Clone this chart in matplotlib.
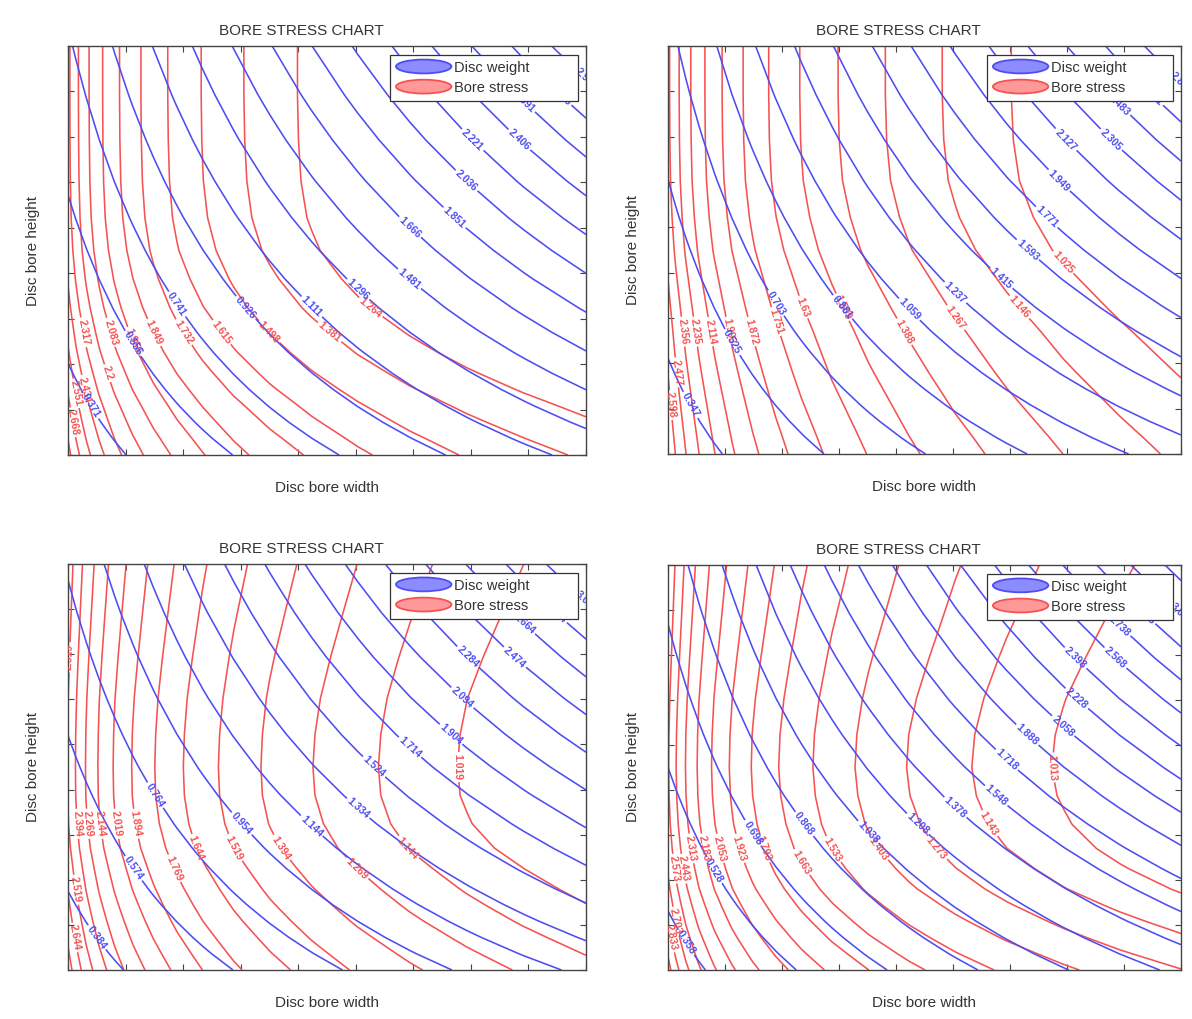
import numpy as np
import matplotlib
matplotlib.use("Agg")
import matplotlib.pyplot as plt
from matplotlib.patches import Ellipse
from matplotlib.legend_handler import HandlerPatch

plt.rcParams['font.family'] = ['Liberation Sans', 'DejaVu Sans']

# ---------------- data ----------------
# grid of disc bore width / height (normalised)
width_grid = [0, 0.015, 0.035, 0.06, 0.09, 0.125, 0.165, 0.21, 0.26, 0.32, 0.39,
              0.47, 0.56, 0.66, 0.77, 0.88, 1.0]
height_grid = [0, 0.04, 0.08, 0.12, 0.16, 0.2, 0.25, 0.3, 0.36, 0.43, 0.5,
               0.58, 0.67, 0.77, 0.88, 1.0]

# panel 1 (top left)
weight_w1 = [0.45, 0.4725, 0.5025, 0.54, 0.585, 0.6375, 0.6975, 0.765, 0.84, 0.93,
             1.035, 1.155, 1.29, 1.44, 1.605, 1.77, 1.95]
weight_h1 = [0.6, 0.64, 0.68, 0.72, 0.76, 0.8, 0.85, 0.9, 0.96, 1.03, 1.1, 1.18,
             1.27, 1.37, 1.48, 1.6]
weight_levels1 = [0.371, 0.556, 0.741, 0.926, 1.111, 1.296, 1.481, 1.666, 1.851,
                  2.036, 2.221, 2.406, 2.591, 2.776, 2.961]
stress_w1 = [2.344, 2.231, 2.110, 1.992, 1.878, 1.771, 1.672, 1.579, 1.493, 1.405,
             1.319, 1.236, 1.156, 1.080, 1.008, 0.945, 0.883]
stress_h1 = [0.480, 0.438, 0.395, 0.353, 0.310, 0.269, 0.220, 0.176, 0.126, 0.080,
             0.043, 0.019, 0.007, 0.002, 0.0, 0.0]
stress_levels1 = [1.264, 1.381, 1.498, 1.615, 1.732, 1.849, 1.966, 2.083, 2.200,
                  2.317, 2.434, 2.551, 2.668, 2.785]

# panel 2 (top right)
weight_w2 = [0.406, 0.4278, 0.4568, 0.493, 0.5365, 0.5873, 0.6453, 0.7105, 0.783,
             0.87, 0.9715, 1.0875, 1.218, 1.363, 1.5225, 1.682, 1.856]
weight_h2 = [0.62, 0.66, 0.70, 0.74, 0.78, 0.82, 0.87, 0.92, 0.98, 1.05, 1.12, 1.20,
             1.29, 1.39, 1.50, 1.62]
weight_levels2 = [0.347, 0.525, 0.703, 0.881, 1.059, 1.237, 1.415, 1.593, 1.771,
                  1.949, 2.127, 2.305, 2.483, 2.661, 2.839]
stress_w2 = [2.378, 2.274, 2.159, 2.040, 1.922, 1.809, 1.701, 1.599, 1.503, 1.404,
             1.307, 1.212, 1.120, 1.032, 0.948, 0.875, 0.803]
stress_h2 = [0.319, 0.299, 0.278, 0.257, 0.236, 0.215, 0.190, 0.165, 0.133, 0.097,
             0.061, 0.033, 0.012, 0.003, 0.0, 0.0]
stress_levels2 = [1.025, 1.146, 1.267, 1.388, 1.509, 1.630, 1.751, 1.872, 1.993,
                  2.114, 2.235, 2.356, 2.477, 2.598]

# panel 3 (bottom left)
weight_w3 = [0.496, 0.5193, 0.5503, 0.589, 0.6355, 0.6898, 0.7518, 0.8215, 0.899,
             0.992, 1.1005, 1.2245, 1.364, 1.519, 1.6895, 1.86, 2.046]
weight_h3 = [0.58, 0.62, 0.66, 0.70, 0.74, 0.78, 0.83, 0.88, 0.94, 1.01, 1.08, 1.16,
             1.25, 1.35, 1.46, 1.58]
weight_levels3 = [0.384, 0.574, 0.764, 0.954, 1.144, 1.334, 1.524, 1.714, 1.904,
                  2.094, 2.284, 2.474, 2.664, 2.854, 3.044]
stress_w3 = [2.506, 2.389, 2.261, 2.132, 2.007, 1.887, 1.775, 1.669, 1.570, 1.469,
             1.369, 1.272, 1.179, 1.090, 1.005, 0.931, 0.859]
stress_h3 = [0.323, 0.281, 0.240, 0.200, 0.163, 0.128, 0.088, 0.050, 0.021, 0.004,
             0.0, 0.004, 0.015, 0.035, 0.060, 0.088]
stress_levels3 = [1.019, 1.144, 1.269, 1.394, 1.519, 1.644, 1.769, 1.894, 2.019,
                  2.144, 2.269, 2.394, 2.519, 2.644, 2.769]

# panel 4 (bottom right)
weight_w4 = [0.48, 0.504, 0.536, 0.576, 0.624, 0.68, 0.744, 0.816, 0.896, 0.992,
             1.104, 1.232, 1.376, 1.536, 1.712, 1.888, 2.08]
weight_h4 = [0.6, 0.64, 0.68, 0.72, 0.76, 0.8, 0.85, 0.9, 0.96, 1.03, 1.1, 1.18,
             1.27, 1.37, 1.48, 1.6]
weight_levels4 = [0.358, 0.528, 0.698, 0.868, 1.038, 1.208, 1.378, 1.548, 1.718,
                  1.888, 2.058, 2.228, 2.398, 2.568, 2.738, 2.908, 3.078, 3.248]
stress_w4 = [2.584, 2.449, 2.306, 2.165, 2.030, 1.903, 1.785, 1.675, 1.572, 1.468,
             1.366, 1.267, 1.172, 1.082, 0.996, 0.920, 0.848]
stress_h4 = [0.429, 0.368, 0.309, 0.254, 0.202, 0.153, 0.104, 0.062, 0.029, 0.008,
             0.0, 0.005, 0.021, 0.047, 0.078, 0.111]
stress_levels4 = [1.013, 1.143, 1.273, 1.403, 1.533, 1.663, 1.793, 1.923, 2.053,
                  2.183, 2.313, 2.443, 2.573, 2.703, 2.833, 2.963]

panels = [
    (weight_w1, weight_h1, weight_levels1, stress_w1, stress_h1, stress_levels1),
    (weight_w2, weight_h2, weight_levels2, stress_w2, stress_h2, stress_levels2),
    (weight_w3, weight_h3, weight_levels3, stress_w3, stress_h3, stress_levels3),
    (weight_w4, weight_h4, weight_levels4, stress_w4, stress_h4, stress_levels4),
]

title_text = "BORE STRESS CHART"
x_label = "Disc bore width"
y_label = "Disc bore height"
legend_labels = ["Disc weight", "Bore stress"]

# ---------------- style ----------------
BLUE = (0.30, 0.30, 0.95)
RED = (0.96, 0.32, 0.32)
TEXT = "#333333"

rects = [
    [0.05705, 0.55348, 0.43456, 0.40137],
    [0.56040, 0.55447, 0.43037, 0.40039],
    [0.05705, 0.04809, 0.43456, 0.39843],
    [0.56040, 0.04809, 0.43037, 0.39745],
]


class HandlerEllipse(HandlerPatch):
    def create_artists(self, legend, orig_handle, xdescent, ydescent,
                       width, height, fontsize, trans):
        center = (0.5 * width - 0.5 * xdescent, 0.5 * height - 0.5 * ydescent)
        p = Ellipse(xy=center, width=width + xdescent, height=height + ydescent)
        self.update_prop(p, orig_handle, legend)
        p.set_transform(trans)
        return [p]


fig = plt.figure(figsize=(11.92, 10.19), dpi=100)

for rect, (ww, wh, wl, sw, sh, sl) in zip(rects, panels):
    ax = fig.add_axes(rect)
    W = np.outer(wh, ww)
    S = np.add.outer(sh, sw)

    cs_s = ax.contour(width_grid, height_grid, S, levels=sl, colors=[RED], linewidths=1.15)
    ax.clabel(cs_s, fmt='%.4g', fontsize=7.5, inline=True, inline_spacing=2)
    cs_w = ax.contour(width_grid, height_grid, W, levels=wl, colors=[BLUE], linewidths=1.15)
    ax.clabel(cs_w, fmt='%.4g', fontsize=7.5, inline=True, inline_spacing=2)
    for t in list(cs_s.labelTexts) + list(cs_w.labelTexts):
        t.set_fontweight('bold')

    ax.set_xlim(0, 1)
    ax.set_ylim(0, 1)
    ticks = np.linspace(0, 1, 10)
    ax.set_xticks(ticks)
    ax.set_yticks(ticks)
    ax.tick_params(direction='in', length=4, width=0.8, top=True, right=True,
                   labelbottom=False, labelleft=False, colors='#444444')
    for sp in ax.spines.values():
        sp.set_color('#444444')
        sp.set_linewidth(1.0)

    ax.set_title(title_text, fontsize=11, pad=8, color=TEXT, x=0.45)
    ax.set_xlabel(x_label, fontsize=11, labelpad=19, color=TEXT)
    ax.set_ylabel(y_label, fontsize=11, labelpad=20, color=TEXT)

    h1 = Ellipse((0, 0), 1, 1, facecolor=(0.55, 0.55, 1.0), edgecolor=BLUE, linewidth=1.3)
    h2 = Ellipse((0, 0), 1, 1, facecolor=(1.0, 0.6, 0.6), edgecolor=RED, linewidth=1.3)
    leg = ax.legend([h1, h2], legend_labels, loc='upper right',
                    bbox_to_anchor=(0.622, 0.6, 0.363, 0.378), mode='expand',
                    fontsize=10.5, handler_map={Ellipse: HandlerEllipse()},
                    handlelength=3.8, handleheight=0.95, handletextpad=0.2,
                    borderaxespad=0.0, borderpad=0.4, labelspacing=0.4,
                    fancybox=False, framealpha=1.0, edgecolor='#333333')
    leg.get_frame().set_linewidth(0.9)
    for t in leg.get_texts():
        t.set_color(TEXT)

fig.savefig("out.png", dpi=100)
